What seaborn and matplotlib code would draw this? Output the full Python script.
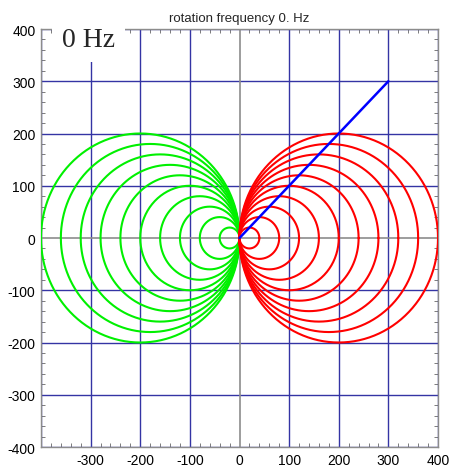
import numpy as np
import pandas as pd
import matplotlib
matplotlib.use("Agg")
import matplotlib.pyplot as plt
import seaborn as sns

# ---- data ----
radii = [20, 40, 60, 80, 100, 120, 140, 160, 180, 200]
green_side = -1   # circles centred at (-r, 0)
red_side = 1      # circles centred at (+r, 0)
vector_x = [0, 300]
vector_y = [0, 300]
xticks = [-300, -200, -100, 0, 100, 200, 300, 400]
yticks = [-400, -300, -200, -100, 0, 100, 200, 300, 400]
title = "rotation frequency 0. Hz"
label = "0 Hz"

def circles(side):
    t = np.linspace(0, 2 * np.pi, 241)
    rows = []
    for r in radii:
        rows.append(pd.DataFrame({"x": side * r + r * np.cos(t),
                                  "y": r * np.sin(t), "r": r}))
    return pd.concat(rows, ignore_index=True)

sns.set_style("white")
plt.rcParams["font.family"] = ["Liberation Sans", "DejaVu Sans"]
plt.rcParams["axes.unicode_minus"] = False

fig = plt.figure(figsize=(4.49, 4.77), dpi=100)
ax = fig.add_axes([41 / 449, 1 - 448 / 477, 397 / 449, 418 / 477])

grid_c = "#3434a4"
for v in xticks + [-400]:
    if v != 0:
        ax.axvline(v, color=grid_c, lw=1.0, zorder=1)
for v in yticks:
    if v != 0:
        ax.axhline(v, color=grid_c, lw=1.0, zorder=1)
ax.axvline(0, color="#8c8c8c", lw=1.2, zorder=1)
ax.axhline(0, color="#8c8c8c", lw=1.2, zorder=1)

g = circles(green_side)
sns.lineplot(data=g, x="x", y="y", units="r", estimator=None, sort=False,
             color="#00f000", lw=1.5, ax=ax, zorder=3)
rd = circles(red_side)
sns.lineplot(data=rd, x="x", y="y", units="r", estimator=None, sort=False,
             color="#ff0000", lw=1.5, ax=ax, zorder=3)
sns.lineplot(x=vector_x, y=vector_y, color="#0000ff", lw=1.8, ax=ax,
             sort=False, zorder=4)

ax.set_xlim(-400, 400)
ax.set_ylim(-400, 400)
ax.set_xticks(xticks)
ax.set_yticks(yticks)
ax.set_xticks(np.arange(-400, 401, 20), minor=True)
ax.set_yticks(np.arange(-400, 401, 20), minor=True)
ax.tick_params(which="major", length=0, labelsize=10, pad=4, colors="black")
ax.tick_params(which="minor", length=3, direction="in", color="#666666",
               top=True, right=True, bottom=True, left=True)
ax.set_xlabel("")
ax.set_ylabel("")
for s in ax.spines.values():
    s.set_visible(True)
    s.set_color("#8c8c8c")
    s.set_linewidth(1.0)

ax.set_title(title, fontsize=9.5, pad=6)

fig.text(62 / 449, 1 - 47 / 477, label, family=["Liberation Serif", "DejaVu Serif"],
         fontsize=20, ha="left", va="baseline", zorder=10,
         bbox=dict(boxstyle="square,pad=0.35", fc="white", ec="none"))

fig.savefig("out.png", dpi=100)
